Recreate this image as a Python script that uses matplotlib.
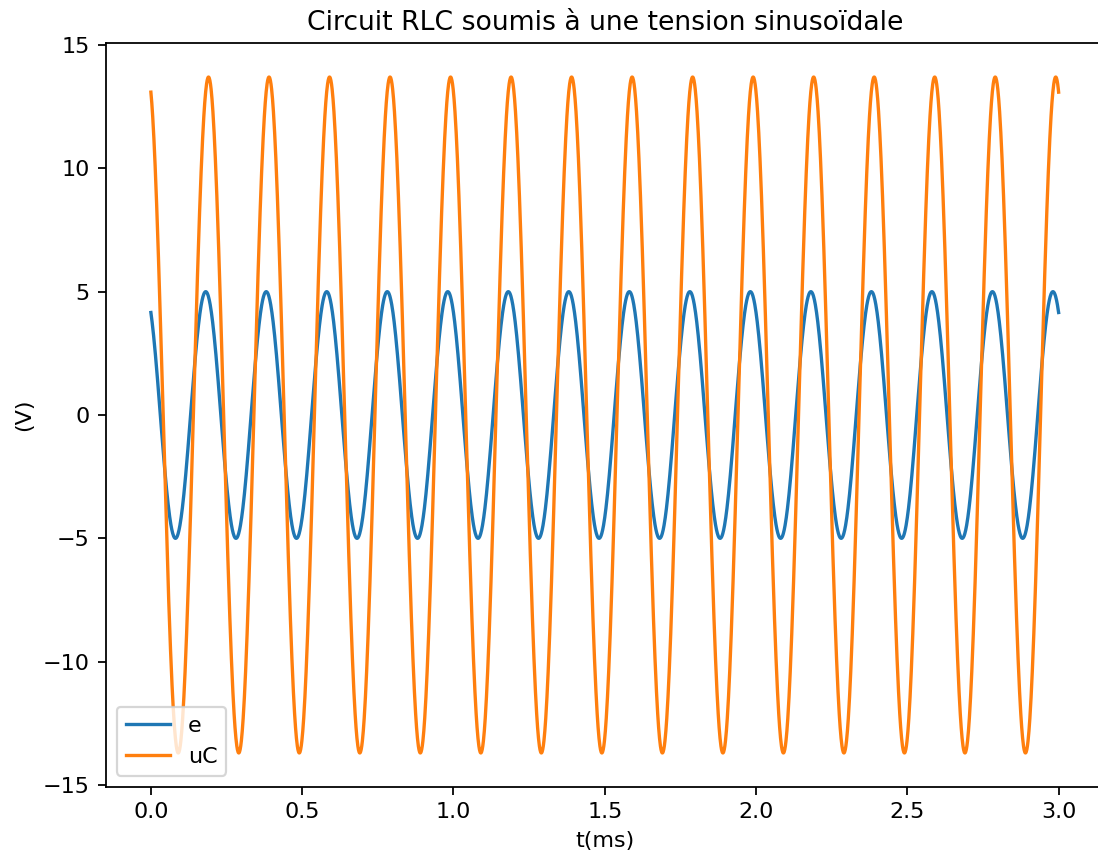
import numpy as np
import matplotlib.pyplot as plt

# valeurs
f_kHz = 5.0          # frequence (periode 0.2 ms)
t_max = 3.0          # ms
E_amp = 5.0          # amplitude de e (V)
E_phase = 0.59       # rad, e(0) ~ 4.15 V
UC_amp = 13.7        # amplitude de uC (V)
UC_phase = 0.30      # rad, uC(0) ~ 13.1 V

t = np.linspace(0, t_max, 3001)
e = E_amp * np.cos(2 * np.pi * f_kHz * t + E_phase)
uC = UC_amp * np.cos(2 * np.pi * f_kHz * t + UC_phase)

dpi = 160
fig = plt.figure(figsize=(1098 / dpi, 863 / dpi), dpi=dpi)
ax = fig.add_axes([105.5 / 1098, 1 - 786.7 / 863, (1104 - 105.5) / 1098, (786.7 - 43.3) / 863])
ax.plot(t, e, label='e')
ax.plot(t, uC, label='uC')
ax.set_title('Circuit RLC soumis à une tension sinusoïdale')
ax.set_xlabel('t(ms)')
ax.set_ylabel('(V)')
ax.legend(loc='lower left')

fig.savefig('out.png', dpi=dpi)
